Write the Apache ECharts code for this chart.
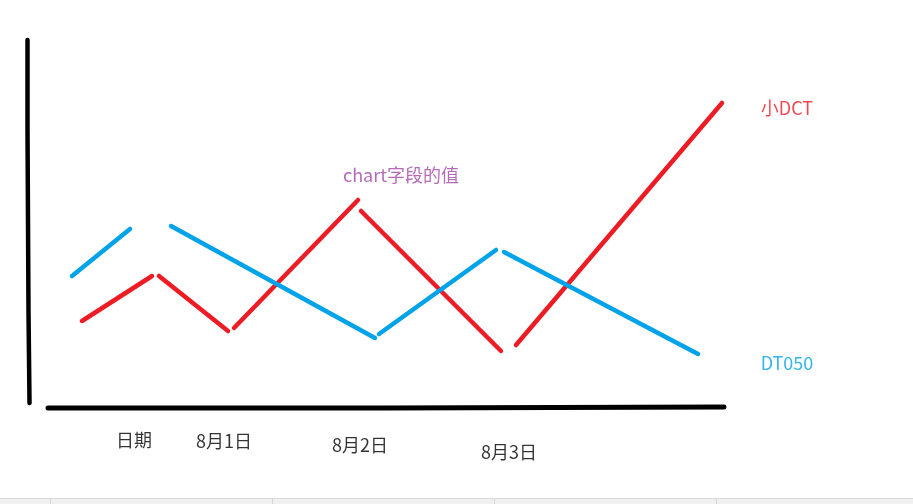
<!DOCTYPE html>
<html>
<head>
<meta charset="utf-8">
<script src="https://cdn.jsdelivr.net/npm/echarts@6/dist/echarts.min.js"></script>
<style>
html,body{margin:0;padding:0;background:#fff;}
#chart{width:913px;height:504px;}
</style>
</head>
<body>
<div id="chart"></div>
<script>
// ---- data (chart units: x across, y downward) ----
const categories = ['日期', '8月1日', '8月2日', '8月3日'];
const seriesNames = ['小DCT', 'DT050'];
const chartTitle = 'chart字段的值';

// hand-drawn stroke pieces of each series
const dctStrokes = [
  [[82, 321], [152, 276]],
  [[159, 276], [228, 331]],
  [[234, 328], [358, 200]],
  [[361, 211], [501, 351]],
  [[516, 345], [722, 103]]
];
const dt050Strokes = [
  [[72, 276], [130, 229]],
  [[171, 226], [375, 338]],
  [[379, 334], [496, 250]],
  [[504, 252], [698, 354]]
];
// hand-drawn axis strokes
const yAxisStroke = [[27.5, 40], [27.5, 130], [28.5, 131], [28.5, 312], [29.5, 313], [29.5, 403]];
const xAxisStroke = [[48, 408], [385, 408], [386, 407], [724, 407]];

// ---- layout (label anchors) ----
const categoryAnchors = [[134, 440], [224, 441], [360, 445], [509, 452]];
const titleAnchor = [401, 175];
const nameAnchors = [[787, 108], [787, 363]];

const RED = '#ed1c24', BLUE = '#00a2e8', PURPLE = '#a346a8';
const FONT = '"Noto Sans CJK SC", "Noto Sans", sans-serif';

const series = [];
function strokeSeries(name, pts, color, width) {
  return {
    name: name, type: 'line', data: pts, showSymbol: false, symbol: 'none',
    silent: true, animation: false, z: 3,
    lineStyle: { color: color, width: width, cap: 'round', join: 'round' }
  };
}
series.push(strokeSeries('yAxis', yAxisStroke, '#000', 4.5));
series.push(strokeSeries('xAxis', xAxisStroke, '#000', 5));
dctStrokes.forEach(s => series.push(strokeSeries(seriesNames[0], s, RED, 4.5)));
dt050Strokes.forEach(s => series.push(strokeSeries(seriesNames[1], s, BLUE, 4.5)));

function textSeries(items, color, size) {
  return {
    type: 'scatter', symbolSize: 1, silent: true, animation: false, z: 5,
    itemStyle: { color: 'rgba(0,0,0,0)' },
    data: items.map(it => ({ name: it.text, value: it.pos })),
    label: {
      show: true, position: 'inside', formatter: p => p.name,
      color: color, fontSize: size, fontFamily: FONT,
      align: 'center', verticalAlign: 'middle'
    }
  };
}
series.push(textSeries(categories.map((c, i) => ({ text: c, pos: categoryAnchors[i] })), '#000', 18));
series.push(textSeries([{ text: chartTitle, pos: titleAnchor }], PURPLE, 18));
series.push(textSeries([{ text: seriesNames[0], pos: nameAnchors[0] }], RED, 18));
series.push(textSeries([{ text: seriesNames[1], pos: nameAnchors[1] }], BLUE, 18));

const chart = echarts.init(document.getElementById('chart'), null, { renderer: 'canvas' });
chart.setOption({
  animation: false,
  backgroundColor: '#fff',
  grid: { left: 0, right: 0, top: 0, bottom: 0 },
  xAxis: { type: 'value', min: 0, max: 913, show: false },
  yAxis: { type: 'value', min: 0, max: 504, inverse: true, show: false },
  series: series,
  graphic: [
    { type: 'rect', shape: { x: 0, y: 498, width: 913, height: 6 }, style: { fill: '#f0f0f0' }, silent: true },
    { type: 'line', shape: { x1: 0, y1: 498.5, x2: 913, y2: 498.5 }, style: { stroke: '#d9d9d9', lineWidth: 1 }, silent: true },
    { type: 'line', shape: { x1: 50.5, y1: 499, x2: 50.5, y2: 504 }, style: { stroke: '#d4d4d4', lineWidth: 1 }, silent: true },
    { type: 'line', shape: { x1: 272.5, y1: 499, x2: 272.5, y2: 504 }, style: { stroke: '#d4d4d4', lineWidth: 1 }, silent: true },
    { type: 'line', shape: { x1: 494.5, y1: 499, x2: 494.5, y2: 504 }, style: { stroke: '#d4d4d4', lineWidth: 1 }, silent: true },
    { type: 'line', shape: { x1: 716.5, y1: 499, x2: 716.5, y2: 504 }, style: { stroke: '#d4d4d4', lineWidth: 1 }, silent: true }
  ]
});
</script>
</body>
</html>
